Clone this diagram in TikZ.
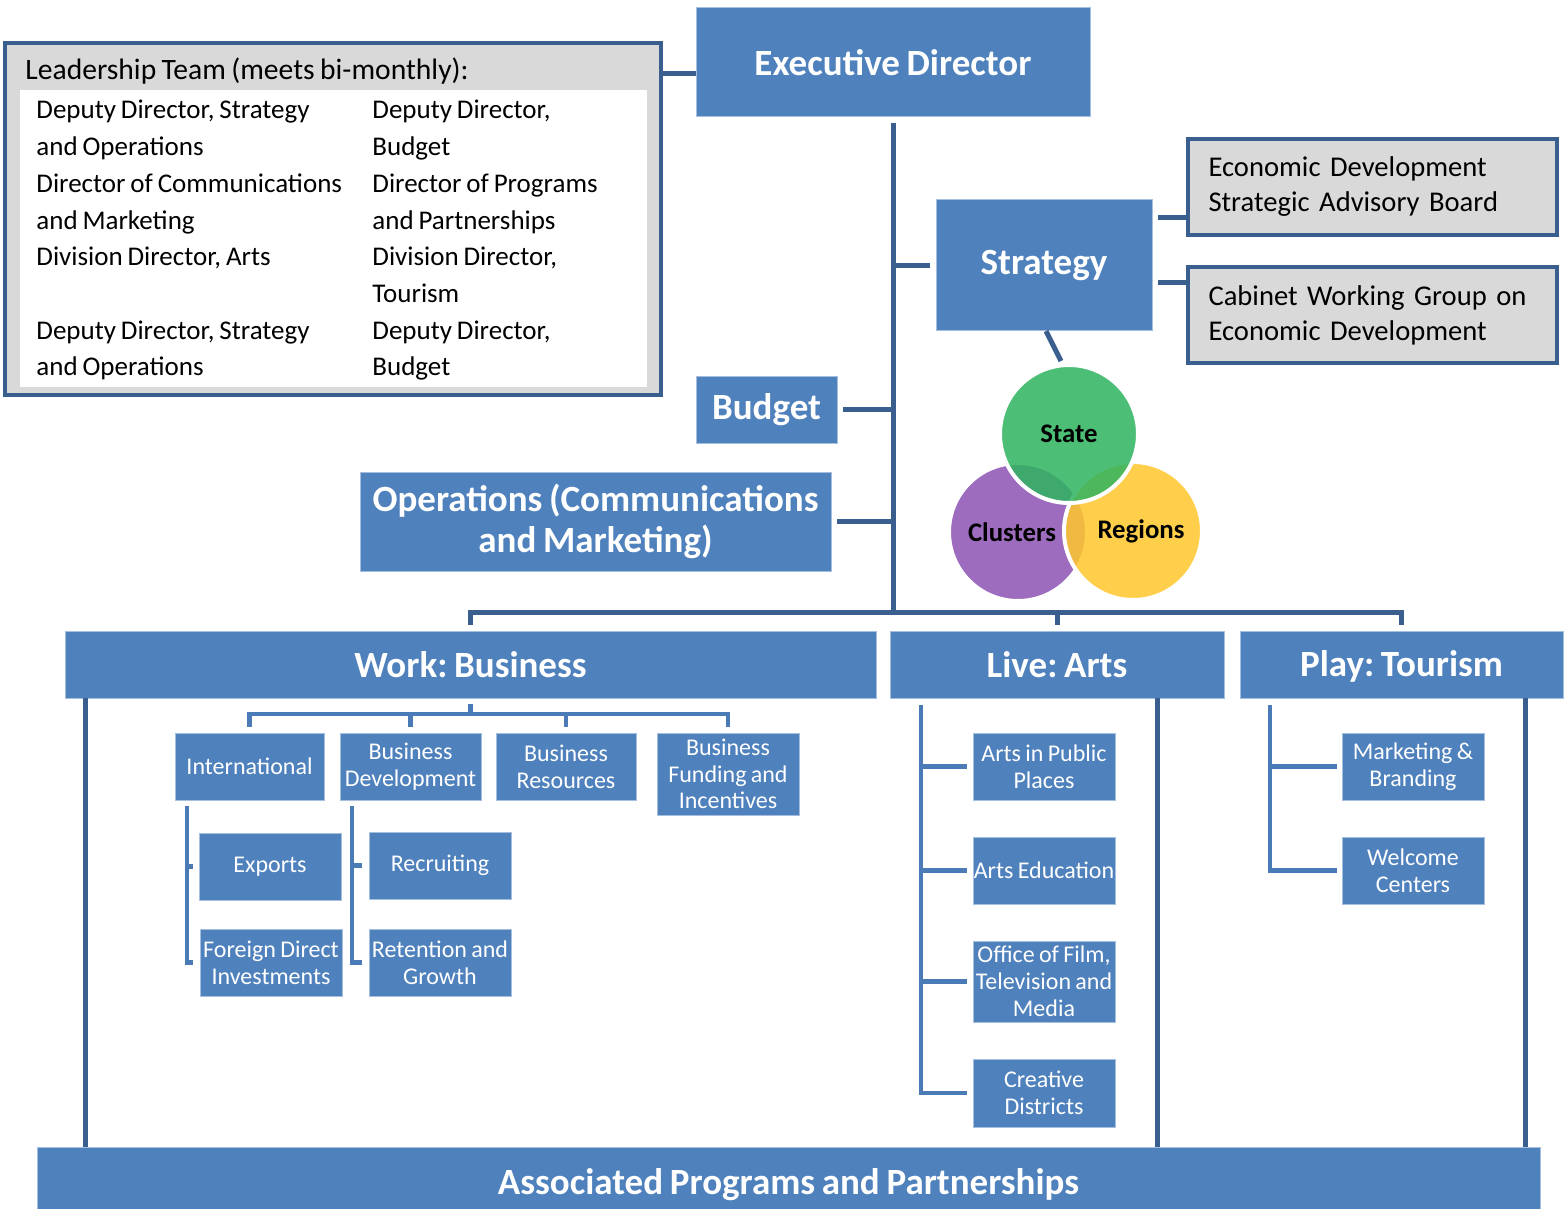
\documentclass[tikz,border=0pt]{standalone}
\usepackage{fontspec}
\setmainfont[WordSpace=0.8]{Carlito}
\frenchspacing
\usetikzlibrary{calc}

\definecolor{boxblue}{HTML}{4F81BD}
\definecolor{boxedge}{HTML}{A7BFDE}
\definecolor{linkdark}{HTML}{3A5F8F}
\definecolor{linklight}{HTML}{4A7BB7}
\definecolor{panelgray}{HTML}{D9D9D9}
\definecolor{vgreen}{HTML}{2EB35E}
\definecolor{vpurple}{HTML}{8C52B4}
\definecolor{vyellow}{HTML}{FFC72C}

% rectangle node from its corner coordinates: style, name, x1, y1, x2, y2, text
\newcommand\rbox[7]{\node[#1, minimum width={(#5-#3)*0.5pt}, minimum height={(#6-#4)*0.5pt}] (#2) at ({(#3+#5)/2},{(#4+#6)/2}) {#7};}

\tikzset{
  box/.style={rectangle, fill=boxblue, draw=boxedge, line width=0.5pt, text=white,
    align=center, inner sep=0pt, outer sep=0pt},
  bigbox/.style={box, font=\fontsize{18.5}{20.5}\selectfont\bfseries},
  smallbox/.style={box, font=\fontsize{12}{13.4}\selectfont},
  graybox/.style={rectangle, fill=panelgray, draw=linkdark, line width=2pt,
    inner sep=0pt, outer sep=0pt},
  advbox/.style={graybox, align=left, inner xsep=10pt, text width=164pt,
    font=\fontsize{14.3}{17.5}\selectfont},
  link/.style={draw=linkdark, line width=2.5pt},
  sublink/.style={draw=linklight, line width=2.2pt},
  venn/.style={circle, minimum size=69pt, draw=white, line width=2pt,
    fill opacity=0.85, text opacity=1, inner sep=0pt,
    font=\fontsize{13.4}{15}\selectfont\bfseries},
  leadtext/.style={anchor=north west, align=left, inner sep=0pt,
    font=\fontsize{13.5}{18.35}\selectfont}
}

\begin{document}
\begin{tikzpicture}[x=0.5pt, y=-0.5pt]
\useasboundingbox (0,0) rectangle (1564,1209);

% leadership panel
\rbox{graybox}{leader}{5}{43}{661}{395}{}
\node[rectangle, fill=white, inner sep=0pt, minimum width=313.5pt, minimum height=148.5pt]
  (leadpanel) at (333.5,238.5) {};
\node[anchor=west, inner sep=0pt, font=\fontsize{14.8}{16}\selectfont] (leadtitle) at (25,71)
  {Leadership Team (meets bi-monthly):};
\node[leadtext] (leadA) at (36,100) {Deputy Director, Strategy\\and Operations\\Director of Communications\\and Marketing\\Division Director, Arts\\\mbox{}\\Deputy Director, Strategy\\and Operations};
\node[leadtext] (leadB) at (372,100) {Deputy Director,\\Budget\\Director of Programs\\and Partnerships\\Division Director,\\Tourism\\Deputy Director,\\Budget};

% top level
\rbox{bigbox}{exec}{696}{8}{1090}{117}{Executive Director}
\rbox{bigbox}{strat}{936}{200}{1152}{331}{Strategy}
\rbox{bigbox}{budget}{696}{376}{837}{443}{Budget}
\rbox{bigbox}{ops}{360}{472}{831}{571}{Operations (Communications\\and Marketing)}
\rbox{advbox}{adv1}{1188}{139}{1557}{235}{Economic Development\\Strategic Advisory Board}
\rbox{advbox}{adv2}{1188}{267}{1557}{363}{Cabinet Working Group on\\Economic Development}

% three divisions and the base bar
\rbox{bigbox}{work}{65}{631}{876}{698}{Work: Business}
\rbox{bigbox}{live}{890}{631}{1224}{698}{Live: Arts}
\rbox{bigbox}{play}{1240}{631}{1563}{698}{\rule{0pt}{15pt}Play: Tourism}
\rbox{bigbox}{assoc}{37}{1147}{1540}{1209}{\rule{0pt}{20pt}Associated Programs and Partnerships}

% business units
\rbox{smallbox}{intl}{175}{733}{324}{800}{International}
\rbox{smallbox}{bdev}{340}{733}{481}{800}{Business\\Development}
\rbox{smallbox}{bres}{496}{733}{636}{800}{Business\\Resources}
\rbox{smallbox}{fund}{657}{733}{799}{815}{Business\\Funding and\\Incentives}
\rbox{smallbox}{exports}{199}{833}{341}{900}{Exports}
\rbox{smallbox}{fdi}{200}{929}{342}{996}{Foreign Direct\\Investments}
\rbox{smallbox}{recr}{369}{832}{511}{899}{Recruiting}
\rbox{smallbox}{reten}{369}{929}{511}{996}{Retention and\\Growth}

% arts units
\rbox{smallbox}{aipp}{973}{733}{1115}{800}{Arts in Public\\Places}
\rbox{smallbox}{artsed}{973}{837}{1115}{904}{Arts Education}
\rbox{smallbox}{film}{973}{941}{1115}{1022}{Office of Film,\\Television and\\Media}
\rbox{smallbox}{creative}{973}{1059}{1115}{1127}{Creative\\Districts}

% tourism units
\rbox{smallbox}{mkt}{1342}{733}{1484}{800}{Marketing \&\\Branding}
\rbox{smallbox}{welcome}{1342}{837}{1484}{904}{Welcome\\Centers}

% state / clusters / regions
\node[venn, fill=vpurple] (clusters) at (1018,532) {\hspace*{-6pt}Clusters};
\node[venn, fill=vyellow] (regions) at (1133,531) {\hspace*{8pt}\raisebox{-0.5pt}{Regions}};
\node[venn, fill=vgreen] (state) at (1069,434) {\raisebox{-1.5pt}{State}};

% connectors
\coordinate (busY) at (0,612);
\coordinate (wbusY) at (0,714);

\coordinate (l1) at ([yshift=-15.5pt]leader.north east);
\draw[link] (l1) -- (l1 -| exec.west);

\draw[link] ([yshift=-3pt]exec.south) -- (exec.south |- busY);
\draw[link] (exec.south |- strat.west) -- ([xshift=-3pt]strat.west);
\draw[link] ([xshift=3pt]budget.east) -- (budget.east -| exec.south);
\draw[link] ([xshift=3pt]ops.east) -- (ops.east -| exec.south);

\coordinate (s1) at ([shift={(6,-47.5)}]strat.east);
\draw[link] (s1) -- (s1 -| adv1.west);
\coordinate (s2) at ([shift={(6,17.5)}]strat.east);
\draw[link] (s2) -- (s2 -| adv2.west);
\draw[link] ([xshift=1pt]strat.south) -- ([shift={(-8,-2)}]state.north);

\draw[link] ([yshift=3pt]work.north) -- (work.north |- busY) -- (play.north |- busY) -- ([yshift=3pt]play.north);
\draw[link] (live.north |- busY) -- ([yshift=3pt]live.north);

% business tree
\draw[sublink] ([yshift=-3pt]work.south) -- (work.south |- wbusY);
\draw[sublink] ([yshift=3pt]intl.north) -- (intl.north |- wbusY) -- (fund.north |- wbusY) -- ([yshift=3pt]fund.north);
\draw[sublink] (bdev.north |- wbusY) -- ([yshift=3pt]bdev.north);
\draw[sublink] (bres.north |- wbusY) -- ([yshift=3pt]bres.north);

\coordinate (ib) at ([shift={(12,6)}]intl.south west);
\draw[sublink] (ib) |- ([xshift=-3.5pt]fdi.west);
\draw[sublink] (ib |- exports.west) -- ([xshift=-3pt]exports.west);
\coordinate (bb) at ([shift={(12,6)}]bdev.south west);
\draw[sublink] (bb) |- ([xshift=-3.5pt]reten.west);
\draw[sublink] (bb |- recr.west) -- ([xshift=-3.5pt]recr.west);

% arts tree
\coordinate (ab) at ([shift={(31,7)}]live.south west);
\draw[sublink] (ab) |- ([xshift=-3pt]creative.west);
\draw[sublink] (ab |- aipp.west) -- ([xshift=-3pt]aipp.west);
\draw[sublink] (ab |- artsed.west) -- ([xshift=-3pt]artsed.west);
\draw[sublink] (ab |- film.west) -- ([xshift=-3pt]film.west);

% tourism tree
\coordinate (pb) at ([shift={(30,7)}]play.south west);
\draw[sublink] (pb) |- ([xshift=-2.5pt]welcome.west);
\draw[sublink] (pb |- mkt.west) -- ([xshift=-2.5pt]mkt.west);

% uprights down to the base bar
\coordinate (v1) at ([xshift=10pt]work.south west);
\draw[link] (v1) -- (v1 |- assoc.north);
\coordinate (v2) at ([xshift=-33.5pt]live.south east);
\draw[link] (v2) -- (v2 |- assoc.north);
\coordinate (v3) at ([xshift=-19pt]play.south east);
\draw[link] (v3) -- (v3 |- assoc.north);
\end{tikzpicture}
\end{document}
